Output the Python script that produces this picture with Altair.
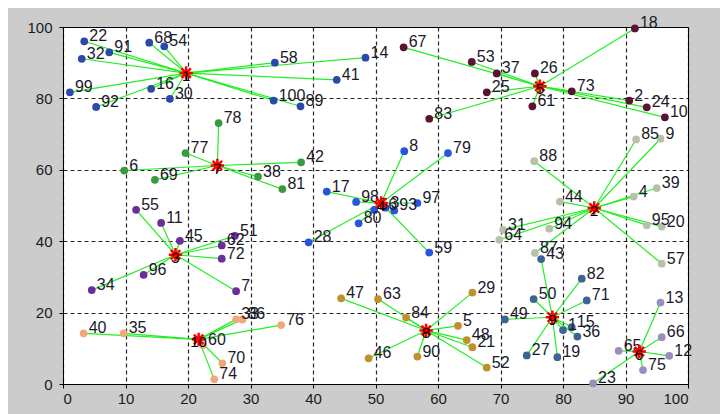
import altair as alt
import pandas as pd

# point data: id, x, y, cluster
pid = list(range(1, 101))
px = [80.0, 90.6, 51.6, 91.3, 63.2, 9.8, 27.7, 54.6, 95.6, 96.3,
      15.7, 97.0, 95.6, 48.4, 81.4, 14.1, 42.2, 91.5, 79.1, 95.8,
      65.5, 3.4, 84.8, 93.4, 67.8, 75.5, 74.2, 39.3, 65.5, 17.1,
      70.4, 3.0, 27.7, 4.6, 9.7, 82.3, 69.4, 31.2, 95.0, 3.3,
      43.8, 38.1, 76.5, 79.5, 18.7, 48.9, 44.5, 64.6, 70.7, 75.3,
      27.5, 67.8, 65.4, 16.2, 11.7, 49.8, 95.8, 33.9, 58.6, 22.4,
      75.1, 25.4, 50.4, 69.8, 88.9, 95.8, 54.5, 13.8, 14.7, 25.5,
      83.8, 25.4, 81.4, 24.2, 92.8, 34.9, 19.6, 24.9, 61.6, 47.3,
      35.1, 83.0, 58.6, 54.9, 91.7, 28.7, 75.5, 75.4, 38.0, 56.7,
      7.4, 5.3, 53.0, 77.8, 93.4, 12.9, 56.7, 46.9, 1.1, 33.7]
py = [15.1, 79.4, 49.4, 52.5, 16.3, 59.8, 26.0, 65.2, 68.7, 74.7,
      45.1, 7.9, 22.8, 91.4, 15.9, 82.7, 53.9, 99.6, 7.5, 44.1,
      10.3, 96.0, 0.2, 77.5, 81.7, 87.0, 8.0, 39.7, 25.6, 79.9,
      43.2, 91.1, 18.1, 26.3, 14.2, 13.3, 87.0, 58.1, 54.9, 14.2,
      85.2, 62.1, 35.0, 51.1, 40.1, 7.2, 24.0, 12.3, 18.1, 23.8,
      41.5, 4.6, 90.2, 94.6, 48.8, 48.8, 33.7, 90.0, 36.8, 10.9,
      77.8, 38.8, 23.8, 40.4, 9.3, 13.1, 94.3, 95.6, 57.2, 5.8,
      23.4, 35.1, 82.0, 1.3, 3.9, 16.5, 64.7, 73.1, 64.7, 45.0,
      54.6, 29.5, 74.3, 18.6, 68.5, 18.1, 36.7, 62.4, 77.8, 7.7,
      92.9, 77.6, 48.6, 43.5, 44.5, 30.6, 50.7, 51.0, 81.7, 79.4]
pcl = [9, 5, 4, 2, 8, 7, 3, 4, 2, 5,
       3, 6, 6, 1, 9, 1, 4, 5, 9, 2,
       8, 1, 6, 5, 5, 5, 9, 4, 8, 1,
       2, 1, 10, 3, 10, 9, 5, 7, 2, 10,
       1, 7, 9, 2, 3, 8, 8, 8, 9, 9,
       3, 8, 5, 1, 3, 4, 2, 1, 4, 10,
       5, 3, 8, 2, 6, 6, 5, 1, 7, 10,
       9, 3, 5, 10, 6, 10, 7, 7, 4, 4,
       7, 9, 5, 8, 2, 10, 2, 2, 1, 8,
       1, 1, 4, 2, 2, 3, 4, 4, 1, 1]

# cluster centres
cid = [1, 2, 3, 4, 5, 6, 7, 8, 9, 10]
cx = [19.7, 85.0, 18.0, 50.9, 76.3, 92.2, 24.7, 58.1, 78.3, 21.7]
cy = [87.1, 49.3, 36.2, 50.7, 83.4, 9.1, 61.2, 15.0, 18.7, 12.5]
ccolor = ["#2c48a8", "#b9c0aa", "#6c2c9c", "#2456e0", "#5c1234",
          "#9c8cc0", "#3a9a40", "#c0902c", "#3c6494", "#f0a878"]

pts = pd.DataFrame({"id": pid, "x": px, "y": py, "c": pcl})
pts["label"] = pts["id"].astype(str)
pts["cx"] = [cx[c - 1] for c in pcl]
pts["cy"] = [cy[c - 1] for c in pcl]
cen = pd.DataFrame({"c": cid, "x": cx, "y": cy, "label": [str(c) for c in cid]})


def make_axis(pad):
    return alt.Axis(values=list(range(0, 101, 10)), title=None, grid=True,
                    gridDash=[4, 3], gridColor="#000000", gridOpacity=0.85,
                    gridWidth=1.2,
                    labelFontSize=15, labelColor="#1a1a1a", labelFont="Liberation Sans",
                    tickColor="#000000", domainColor="#000000", tickSize=4,
                    labelPadding=pad)


xs = alt.X("x:Q", scale=alt.Scale(domain=[0, 100], nice=False, zero=False),
           axis=make_axis(3))
ys = alt.Y("y:Q", scale=alt.Scale(domain=[0, 100], nice=False, zero=False),
           axis=make_axis(7))

colscale = alt.Scale(domain=cid, range=ccolor)

lines = alt.Chart(pts).mark_rule(color="#22ee22", strokeWidth=1.2).encode(
    x=xs, y=ys, x2="cx:Q", y2="cy:Q")

dots = alt.Chart(pts).mark_circle(size=60, opacity=1).encode(
    x="x:Q", y="y:Q", color=alt.Color("c:O", scale=colscale, legend=None))

labels = alt.Chart(pts).mark_text(align="left", baseline="middle", dx=5, dy=-5,
                                  fontSize=16, font="Liberation Sans", color="#1a1a2a").encode(
    x="x:Q", y="y:Q", text="label:N")

star_path = "M-1,0L1,0M0,-1L0,1M-0.7,-0.7L0.7,0.7M-0.7,0.7L0.7,-0.7"
stars = alt.Chart(cen).mark_point(shape=star_path, size=180, color="#ff0000",
                                  strokeWidth=2.5, filled=False, opacity=1).encode(
    x="x:Q", y="y:Q")

cnum = alt.Chart(cen).mark_text(align="center", baseline="middle", dy=3,
                                fontSize=15, font="Liberation Sans", color="#000000").encode(
    x="x:Q", y="y:Q", text="label:N")

chart = alt.layer(lines, dots, labels, stars, cnum).properties(
    width=625, height=357,
    background="#cccccc",
    padding={"left": 55, "top": 19, "right": 32, "bottom": 30},
    autosize=alt.AutoSizeParams(type="none"),
).configure_view(fill="#ffffff", stroke="#000000", strokeWidth=1)

chart.save("out.html", embed_options={"renderer": "svg", "actions": False})
